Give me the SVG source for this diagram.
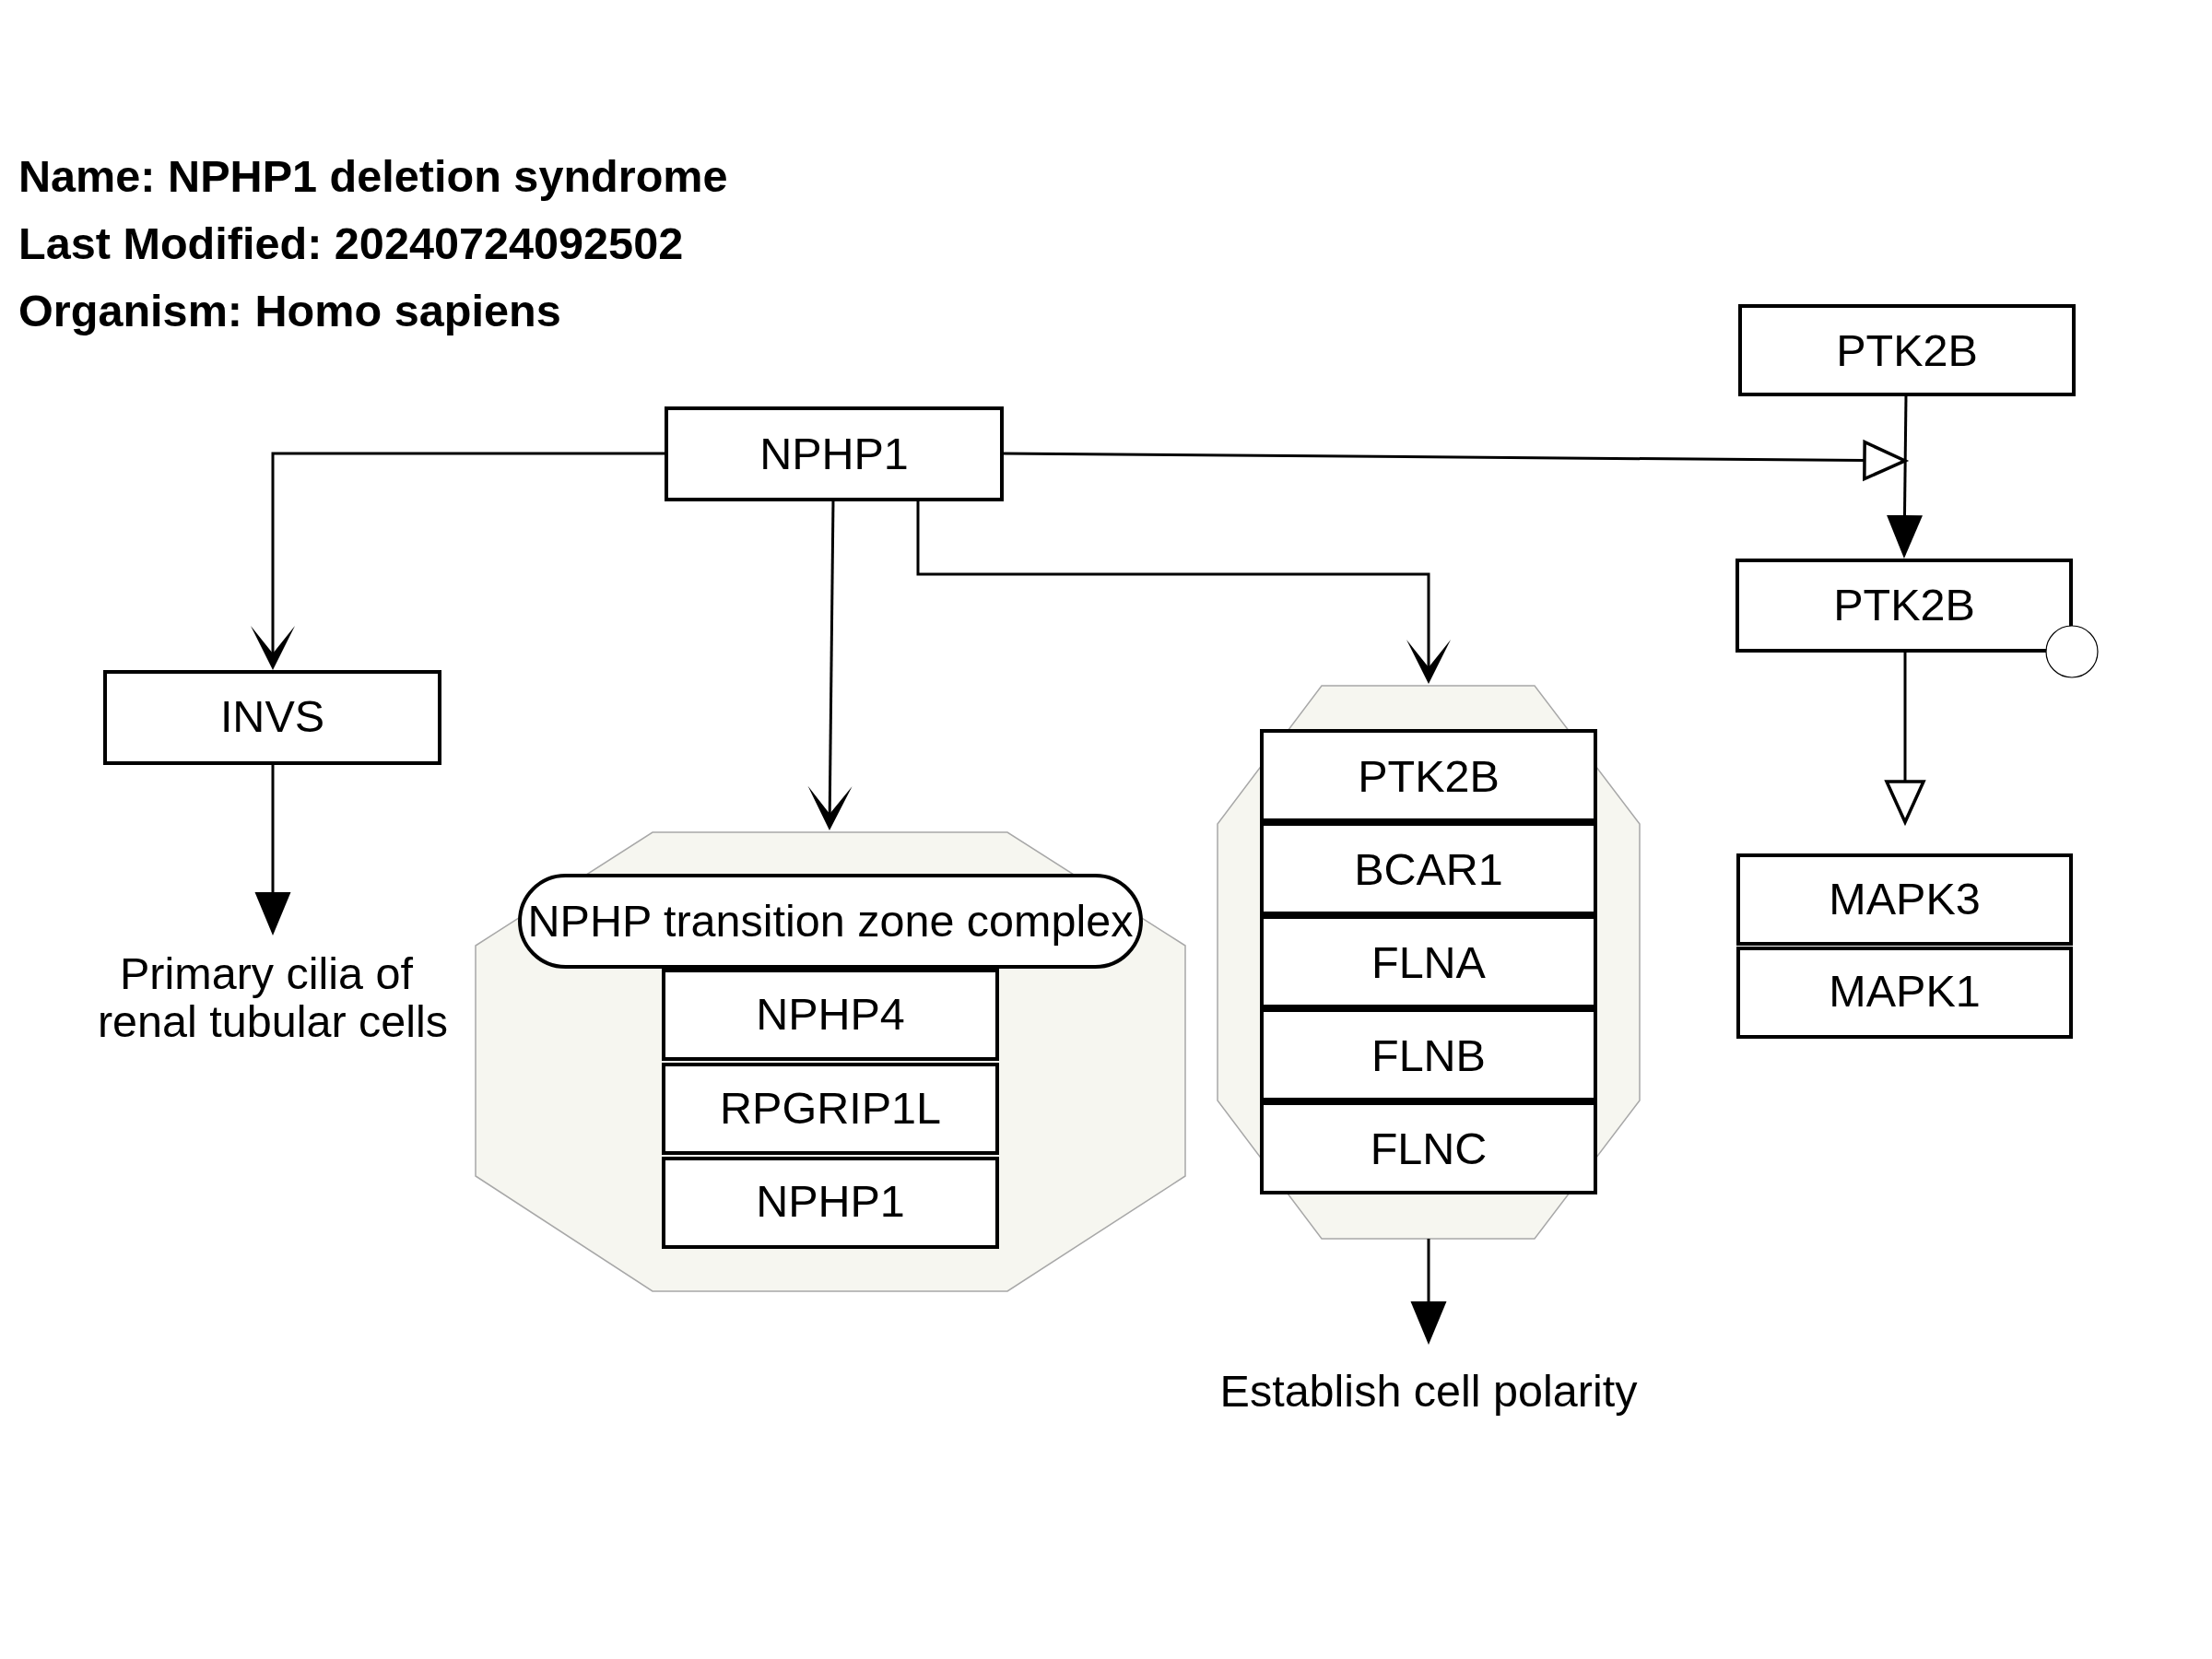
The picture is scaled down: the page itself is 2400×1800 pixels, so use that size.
<svg xmlns="http://www.w3.org/2000/svg" width="2400" height="1800" viewBox="0 0 2400 1800">
<style>
text{font-family:"Liberation Sans",Arial,sans-serif;font-size:48.5px;fill:#000}
.t{text-anchor:middle}
.title{font-weight:bold;font-size:48.6px}
.box{fill:#fff;stroke:#000;stroke-width:4}
.cplx{fill:#f6f6f0;stroke:#a8a8a8;stroke-width:1.5}
.pill{fill:#fff;stroke:#000;stroke-width:4}
.edge{fill:none;stroke:#000;stroke-width:3}
</style>
<defs>
<marker id="chev" markerUnits="userSpaceOnUse" viewBox="-2 -26 52 52" markerWidth="52" markerHeight="52" refX="30" refY="0" orient="auto">
<path d="M0,-24 L48,0 L0,24 L30,0 Z" fill="#000"/>
</marker>
<marker id="filled" markerUnits="userSpaceOnUse" viewBox="0 -21 48 42" markerWidth="48" markerHeight="42" refX="0" refY="0" orient="auto">
<path d="M0,-19.5 L47,0 L0,19.5 Z" fill="#000"/>
</marker>
<marker id="open" markerUnits="userSpaceOnUse" viewBox="-3 -25 52 50" markerWidth="52" markerHeight="50" refX="0" refY="0" orient="auto">
<path d="M0,-20 L44,0 L0,20 Z" fill="#fff" stroke="#000" stroke-width="3.5"/>
</marker>
</defs>
<rect width="2400" height="1800" fill="#fff"/>

<g id="header">
<text class="title" x="20" y="208">Name: NPHP1 deletion syndrome</text>
<text class="title" x="20" y="281">Last Modified: 20240724092502</text>
<text class="title" x="20" y="354">Organism: Homo sapiens</text>
</g>

<g id="complex-nphp">
<polygon class="cplx" points="708,903 1093,903 1286,1026 1286,1276 1093,1401 708,1401 516,1276 516,1026"/>
<rect class="pill" x="564" y="950" width="674" height="99" rx="49.5" ry="49.5"/>
<text class="t" x="901" y="1016">NPHP transition zone complex</text>
<g id="c1-nphp4"><rect class="box" x="720" y="1053" width="362" height="96"/><text class="t" x="901" y="1117">NPHP4</text></g>
<g id="c1-rpgrip1l"><rect class="box" x="720" y="1155" width="362" height="96"/><text class="t" x="901" y="1219">RPGRIP1L</text></g>
<g id="c1-nphp1"><rect class="box" x="720" y="1257" width="362" height="96"/><text class="t" x="901" y="1320">NPHP1</text></g>
</g>

<g id="complex-ptk2b">
<polygon class="cplx" points="1434,744 1665,744 1779,894 1779,1194 1665,1344 1434,1344 1321,1194 1321,894"/>
<g id="c2-ptk2b"><rect class="box" x="1369" y="793" width="362" height="97"/><text class="t" x="1550" y="859">PTK2B</text></g>
<g id="c2-bcar1"><rect class="box" x="1369" y="894" width="362" height="97"/><text class="t" x="1550" y="960">BCAR1</text></g>
<g id="c2-flna"><rect class="box" x="1369" y="995" width="362" height="97"/><text class="t" x="1550" y="1061">FLNA</text></g>
<g id="c2-flnb"><rect class="box" x="1369" y="1096" width="362" height="97"/><text class="t" x="1550" y="1162">FLNB</text></g>
<g id="c2-flnc"><rect class="box" x="1369" y="1197" width="362" height="97"/><text class="t" x="1550" y="1263">FLNC</text></g>
</g>

<g id="connectors">
<path class="edge" d="M723,492 H296 V709" marker-end="url(#chev)"/>
<path class="edge" d="M904,542 L900.2,883" marker-end="url(#chev)"/>
<path class="edge" d="M996,542 V623 H1550 V724" marker-end="url(#chev)"/>
<path class="edge" d="M1087,492 L2023,499.6" marker-end="url(#open)"/>
<path class="edge" d="M2068,428 L2066.5,559" marker-end="url(#filled)"/>
<path class="edge" d="M2067,706 V848" marker-end="url(#open)"/>
<path class="edge" d="M296,828 V968" marker-end="url(#filled)"/>
<path class="edge" d="M1550,1344 V1412" marker-end="url(#filled)"/>
</g>

<g id="nphp1">
<rect class="box" x="723" y="443" width="364" height="99"/>
<text class="t" x="905" y="509">NPHP1</text>
</g>
<g id="invs">
<rect class="box" x="114" y="729" width="363" height="99"/>
<text class="t" x="295.5" y="794">INVS</text>
</g>
<g id="ptk2b-top">
<rect class="box" x="1888" y="332" width="362" height="96"/>
<text class="t" x="2069" y="397">PTK2B</text>
</g>
<g id="ptk2b-mid">
<rect class="box" x="1885" y="608" width="362" height="98"/>
<text class="t" x="2066" y="673">PTK2B</text>
<circle cx="2248" cy="707" r="28" fill="#fff" stroke="#000" stroke-width="1.2"/>
</g>
<g id="mapk3">
<rect class="box" x="1886" y="928" width="361" height="96"/>
<text class="t" x="2066.5" y="992">MAPK3</text>
</g>
<g id="mapk1">
<rect class="box" x="1886" y="1029" width="361" height="96"/>
<text class="t" x="2066.5" y="1092">MAPK1</text>
</g>
<g id="label-cilia">
<text class="t" x="289" y="1073">Primary cilia of</text>
<text class="t" x="296" y="1125">renal tubular cells</text>
</g>
<g id="label-polarity">
<text class="t" x="1550" y="1526">Establish cell polarity</text>
</g>
</svg>
